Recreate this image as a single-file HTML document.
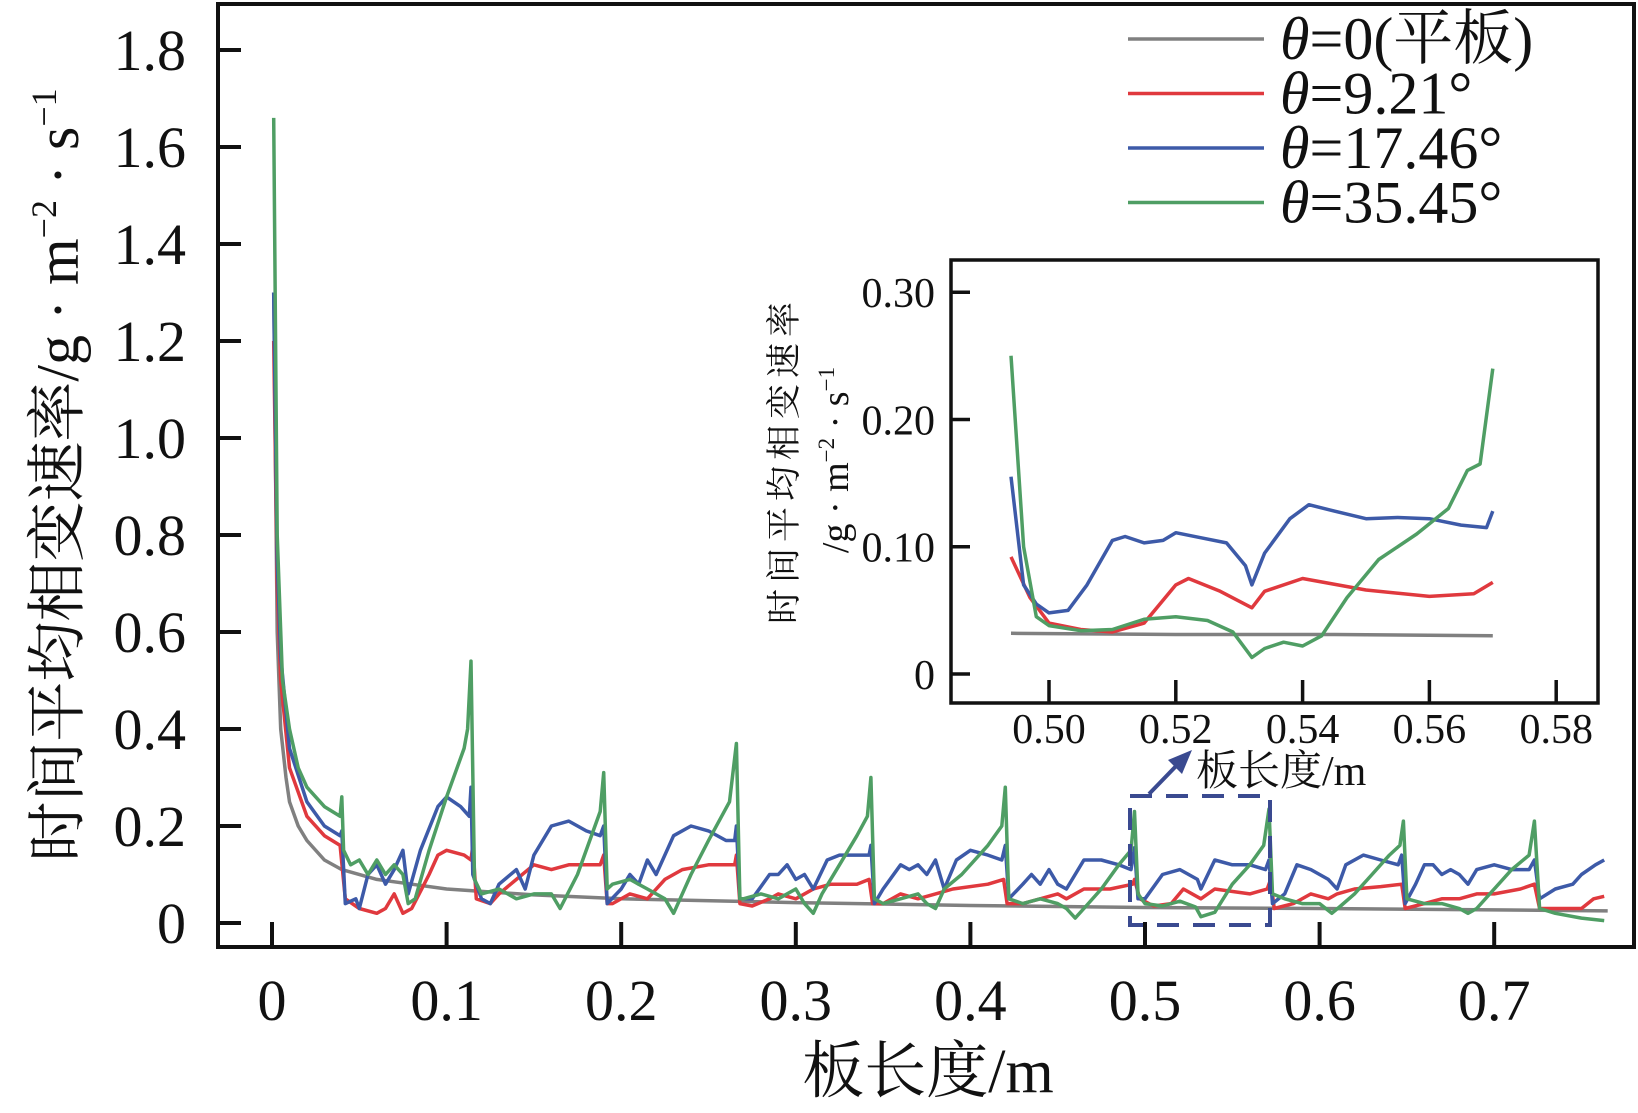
<!DOCTYPE html>
<html><head><meta charset="utf-8">
<style>
html,body{margin:0;padding:0;background:#fff;}
svg{display:block;}
text{font-family:"Liberation Serif","Noto Serif CJK SC","Noto Sans CJK SC",serif;fill:#111;}
</style></head>
<body>
<svg id="chart" width="1638" height="1113" viewBox="0 0 1638 1113" xmlns="http://www.w3.org/2000/svg">
<g id="main"></g>
<g id="inset"></g>
</svg>
<script>
const seriesNames = ["θ=0(平板)", "θ=9.21°", "θ=17.46°", "θ=35.45°"];
const xTicksMain = [0,0.1,0.2,0.3,0.4,0.5,0.6,0.7];
const xTickLabelsMain = ["0","0.1","0.2","0.3","0.4","0.5","0.6","0.7"];
const yTicksMain = [0,0.2,0.4,0.6,0.8,1.0,1.2,1.4,1.6,1.8];
const yTickLabelsMain = ["0","0.2","0.4","0.6","0.8","1.0","1.2","1.4","1.6","1.8"];
const xTicksInset = [0.50,0.52,0.54,0.56,0.58];
const xTickLabelsInset = ["0.50","0.52","0.54","0.56","0.58"];
const yTicksInset = [0,0.10,0.20,0.30];
const yTickLabelsInset = ["0","0.10","0.20","0.30"];

const grayX = [0.001,0.003,0.005,0.008,0.01,0.015,0.02,0.03,0.04,0.06,0.08,0.1,0.15,0.2,0.3,0.4,0.5,0.6,0.7,0.765];
const grayY = [1.3,0.6,0.4,0.3,0.25,0.2,0.17,0.13,0.11,0.09,0.08,0.07,0.058,0.05,0.042,0.036,0.032,0.03,0.027,0.025];

const redX = [0.001,0.003,0.005,0.01,0.02,0.03,0.039,0.042,0.05,0.06,0.065,0.07,0.075,0.08,0.09,0.095,0.1,0.11,0.114,0.115,0.117,0.125,0.13,0.14,0.15,0.16,0.17,0.188,0.19,0.192,
0.195,0.205,0.215,0.225,0.235,0.25,0.265,0.266,0.268,
0.275,0.285,0.29,0.3,0.31,0.32,0.335,0.342,0.344,
0.35,0.36,0.37,0.38,0.39,0.41,0.419,0.421,
0.43,0.44,0.45,0.455,0.465,0.48,0.493,0.494,0.497,
0.505,0.515,0.522,0.532,0.54,0.56,0.57,0.572,0.574,
0.585,0.595,0.605,0.61,0.62,0.635,0.647,0.649,
0.66,0.67,0.68,0.69,0.7,0.715,0.723,0.726,
0.74,0.75,0.757,0.763];
const redY = [1.2,0.7,0.5,0.32,0.22,0.18,0.16,0.05,0.03,0.02,0.03,0.06,0.02,0.03,0.1,0.14,0.15,0.14,0.13,0.16,0.05,0.04,0.06,0.09,0.12,0.11,0.12,0.12,0.14,0.04,
0.04,0.06,0.05,0.09,0.11,0.12,0.12,0.14,0.04,
0.035,0.05,0.06,0.05,0.07,0.08,0.08,0.09,0.04,
0.04,0.06,0.05,0.06,0.07,0.08,0.09,0.04,
0.04,0.05,0.06,0.05,0.07,0.07,0.08,0.09,0.05,
0.035,0.04,0.07,0.05,0.07,0.06,0.07,0.09,0.03,
0.04,0.06,0.05,0.06,0.07,0.075,0.08,0.03,
0.04,0.05,0.05,0.06,0.06,0.07,0.08,0.03,
0.03,0.03,0.05,0.055];

const blueX = [0.001,0.003,0.005,0.01,0.02,0.03,0.039,0.04,0.042,0.048,0.05,0.055,0.06,0.065,0.07,0.075,0.078,0.085,0.095,0.1,0.108,0.113,0.114,0.115,0.12,0.125,0.13,0.14,0.145,0.15,0.16,0.17,0.18,0.188,0.19,
0.192,0.2,0.205,0.21,0.215,0.22,0.23,0.24,0.25,0.26,0.265,0.266,0.268,
0.275,0.285,0.29,0.295,0.3,0.305,0.31,0.318,0.325,0.335,0.342,0.343,0.345,
0.35,0.36,0.365,0.37,0.375,0.38,0.385,0.392,0.4,0.41,0.418,0.42,0.422,
0.43,0.435,0.44,0.445,0.45,0.455,0.465,0.475,0.485,0.492,0.494,0.496,
0.5,0.51,0.52,0.53,0.532,0.54,0.55,0.56,0.569,0.571,0.573,
0.58,0.587,0.595,0.6,0.605,0.61,0.615,0.625,0.635,0.645,0.647,0.649,
0.655,0.66,0.665,0.67,0.675,0.68,0.685,0.69,0.7,0.71,0.72,0.723,0.726,
0.735,0.745,0.75,0.758,0.763];
const blueY = [1.3,0.75,0.55,0.36,0.25,0.2,0.18,0.19,0.04,0.05,0.03,0.1,0.12,0.08,0.11,0.15,0.06,0.15,0.24,0.26,0.24,0.22,0.28,0.1,0.05,0.04,0.08,0.11,0.07,0.14,0.2,0.21,0.19,0.18,0.2,
0.04,0.07,0.1,0.08,0.13,0.1,0.18,0.2,0.19,0.17,0.17,0.2,0.05,
0.05,0.1,0.1,0.12,0.09,0.1,0.07,0.13,0.14,0.14,0.14,0.16,0.04,
0.07,0.12,0.11,0.12,0.1,0.13,0.07,0.13,0.15,0.14,0.13,0.16,0.05,
0.08,0.1,0.08,0.11,0.08,0.07,0.13,0.13,0.12,0.11,0.155,0.05,
0.05,0.1,0.11,0.09,0.07,0.13,0.12,0.12,0.11,0.13,0.04,
0.06,0.12,0.11,0.1,0.09,0.07,0.12,0.14,0.13,0.12,0.14,0.04,
0.08,0.12,0.12,0.1,0.11,0.1,0.08,0.11,0.12,0.11,0.11,0.13,0.05,
0.07,0.08,0.1,0.12,0.13];

const greenX = [0.001,0.003,0.006,0.01,0.015,0.02,0.03,0.039,0.04,0.041,0.045,0.05,0.055,0.06,0.065,0.07,0.075,0.078,0.082,0.09,0.1,0.11,0.112,0.114,0.116,0.12,0.13,0.14,0.15,0.16,0.165,0.175,0.188,0.19,0.192,
0.195,0.205,0.215,0.225,0.23,0.24,0.25,0.262,0.266,0.268,
0.27,0.28,0.29,0.3,0.305,0.31,0.315,0.325,0.335,0.341,0.343,0.345,
0.35,0.36,0.37,0.375,0.38,0.385,0.395,0.41,0.418,0.42,0.422,
0.43,0.44,0.45,0.455,0.46,0.465,0.475,0.485,0.492,0.494,0.496,
0.5,0.51,0.52,0.529,0.532,0.54,0.55,0.56,0.568,0.571,0.573,
0.58,0.59,0.6,0.607,0.612,0.62,0.63,0.64,0.646,0.648,0.65,
0.66,0.67,0.68,0.685,0.69,0.7,0.71,0.72,0.723,0.726,
0.735,0.75,0.763];
const greenY = [1.66,0.8,0.5,0.4,0.32,0.28,0.24,0.22,0.26,0.15,0.12,0.13,0.1,0.13,0.1,0.12,0.1,0.04,0.05,0.15,0.26,0.36,0.4,0.54,0.09,0.06,0.07,0.05,0.06,0.06,0.03,0.1,0.23,0.31,0.07,
0.08,0.09,0.07,0.05,0.02,0.1,0.17,0.25,0.37,0.05,
0.05,0.06,0.05,0.07,0.04,0.02,0.06,0.12,0.18,0.22,0.3,0.05,
0.04,0.05,0.06,0.04,0.03,0.07,0.1,0.16,0.2,0.28,0.05,
0.04,0.05,0.04,0.03,0.01,0.03,0.07,0.12,0.15,0.23,0.06,
0.04,0.035,0.045,0.033,0.013,0.022,0.08,0.12,0.16,0.235,0.06,
0.05,0.04,0.04,0.02,0.035,0.06,0.1,0.14,0.16,0.21,0.05,
0.04,0.04,0.03,0.02,0.03,0.07,0.11,0.14,0.21,0.03,
0.02,0.01,0.005];

const inGrayX = [0.494,0.52,0.545,0.57];
const inGrayY = [0.032,0.031,0.031,0.03];
const inRedX = [0.494,0.497,0.5,0.505,0.51,0.515,0.52,0.522,0.527,0.532,0.534,0.54,0.55,0.56,0.567,0.57];
const inRedY = [0.092,0.06,0.04,0.035,0.033,0.04,0.07,0.075,0.065,0.052,0.065,0.075,0.066,0.061,0.063,0.072];
const inBlueX = [0.494,0.496,0.498,0.5,0.503,0.506,0.51,0.512,0.515,0.518,0.52,0.524,0.528,0.531,0.532,0.534,0.538,0.541,0.545,0.55,0.555,0.56,0.565,0.569,0.57];
const inBlueY = [0.155,0.07,0.055,0.048,0.05,0.07,0.105,0.108,0.103,0.105,0.111,0.107,0.103,0.085,0.07,0.095,0.122,0.133,0.128,0.122,0.123,0.122,0.117,0.115,0.128];
const inGreenX = [0.494,0.496,0.498,0.5,0.505,0.51,0.515,0.52,0.525,0.529,0.532,0.534,0.537,0.54,0.543,0.547,0.552,0.558,0.563,0.566,0.568,0.57];
const inGreenY = [0.25,0.1,0.045,0.038,0.034,0.035,0.043,0.045,0.042,0.033,0.013,0.02,0.025,0.022,0.03,0.06,0.09,0.11,0.13,0.16,0.165,0.24];

const NS="http://www.w3.org/2000/svg";
const colors=["#808080","#e0393e","#3d5aa8","#4f9e64"];
function mk(tag,attrs,parent){const e=document.createElementNS(NS,tag);for(const k in attrs)e.setAttribute(k,attrs[k]);parent.appendChild(e);return e;}

const mx=v=>272+v*1746;
const my=v=>923-v*485;
const main=document.getElementById('main');
function line(parent,xs,ys,fx,fy,color,name,w){
  const p=mk('polyline',{points:xs.map((x,i)=>fx(x).toFixed(1)+','+fy(ys[i]).toFixed(1)).join(' '),fill:'none',stroke:color,'stroke-width':w,'stroke-linejoin':'round'},parent);
  
  
}
line(main,grayX,grayY,mx,my,colors[0],'series-flat-plate',3.5);
line(main,redX,redY,mx,my,colors[1],'series-9-21',3.5);
line(main,blueX,blueY,mx,my,colors[2],'series-17-46',3.5);
line(main,greenX,greenY,mx,my,colors[3],'series-35-45',3.5);

const frame=mk('rect',{x:218,y:4,width:1416,height:943,fill:'none',stroke:'#111','stroke-width':4},main);


xTicksMain.forEach((v,i)=>{
  const t=mk('line',{x1:mx(v),x2:mx(v),y1:947,y2:922,stroke:'#111','stroke-width':4},main);
  
  
  const l=mk('text',{x:mx(v),y:1020,'text-anchor':'middle','font-size':58},main);
  l.textContent=xTickLabelsMain[i];
  
  
});
yTicksMain.forEach((v,i)=>{
  const t=mk('line',{x1:218,x2:241,y1:my(v),y2:my(v),stroke:'#111','stroke-width':4},main);
  
  
  const l=mk('text',{x:186,y:my(v)+20,'text-anchor':'end','font-size':58},main);
  l.textContent=yTickLabelsMain[i];
  
  
});
const box=mk('rect',{x:1130,y:796,width:140,height:129,fill:'none',stroke:'#3a4a90','stroke-width':4,'stroke-dasharray':'22 14'},main);


const arr=mk('line',{x1:1149,y1:794,x2:1180,y2:762,stroke:'#3a4a90','stroke-width':4},main);


const ah=mk('polygon',{points:'1192,750 1168,760 1182,774',fill:'#3a4a90'},main);



seriesNames.forEach((n,i)=>{
  const y=39+i*54.5;
  const l=mk('line',{x1:1128,x2:1264,y1:y,y2:y,stroke:colors[i],'stroke-width':3.5},main);
  
  
  const t=mk('text',{x:1280,y:y+20,'font-size':60},main);
  t.innerHTML='<tspan font-style="italic">θ</tspan>'+n.slice(1);
  
  
});

const ix=v=>1049+(v-0.5)/0.02*126.8;
const iy=v=>674-v*1272.7;
const inset=document.getElementById('inset');
const ibg=mk('rect',{x:951,y:260,width:647,height:443,fill:'#fff',stroke:'#111','stroke-width':3.5},inset);


line(inset,inGrayX,inGrayY,ix,iy,colors[0],'inset-series-flat-plate',3.5);
line(inset,inRedX,inRedY,ix,iy,colors[1],'inset-series-9-21',3.5);
line(inset,inBlueX,inBlueY,ix,iy,colors[2],'inset-series-17-46',3.5);
line(inset,inGreenX,inGreenY,ix,iy,colors[3],'inset-series-35-45',3.5);
xTicksInset.forEach((v,i)=>{
  const t=mk('line',{x1:ix(v),x2:ix(v),y1:703,y2:680,stroke:'#111','stroke-width':3.5},inset);
  
  
  const l=mk('text',{x:ix(v),y:743,'text-anchor':'middle','font-size':42},inset);
  l.textContent=xTickLabelsInset[i];
  
  
});
yTicksInset.forEach((v,i)=>{
  const t=mk('line',{x1:951,x2:970,y1:iy(v),y2:iy(v),stroke:'#111','stroke-width':3.5},inset);
  
  
  const l=mk('text',{x:935,y:iy(v)+15,'text-anchor':'end','font-size':42},inset);
  l.textContent=yTickLabelsInset[i];
  
  
});
</script>
<svg style="position:absolute;left:0;top:0" width="1638" height="1113" xmlns="http://www.w3.org/2000/svg">
<text x="928" y="1092" text-anchor="middle" font-size="62">板长度/m</text>
<text transform="translate(78,475) rotate(-90)" text-anchor="middle" font-size="60">时间平均相变速率/g · m<tspan font-size="36" dy="-22">−2</tspan><tspan dy="22"> · s</tspan><tspan font-size="36" dy="-22">−1</tspan></text>
<text x="1196" y="785" font-size="42">板长度/m</text>
<text transform="translate(796,460) rotate(-90)" text-anchor="middle" font-size="35" letter-spacing="6">时间平均相变速率</text>
<text transform="translate(848,460) rotate(-90)" text-anchor="middle" font-size="38">/g · m<tspan font-size="23" dy="-14">−2</tspan><tspan dy="14"> · s</tspan><tspan font-size="23" dy="-14">−1</tspan></text>
</svg>
</body></html>
